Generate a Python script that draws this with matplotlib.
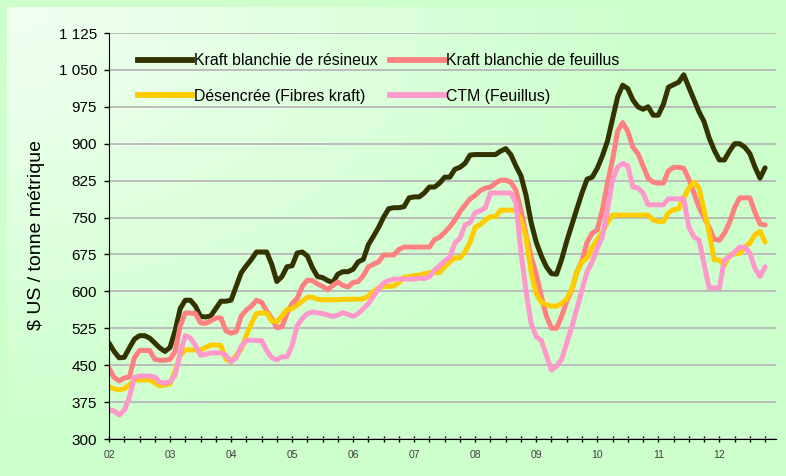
import numpy as np
import matplotlib.pyplot as plt
from matplotlib.lines import Line2D

plt.rcParams['font.family'] = ['Liberation Sans', 'DejaVu Sans']

# ------------------------------------------------------------------
# Données : prix mensuels ($ US / tonne métrique), janv. 2002 -> oct. 2012
# ------------------------------------------------------------------
year_labels = ['02', '03', '04', '05', '06', '07', '08', '09', '10', '11', '12']

kraft_resineux = [
    495, 478, 465, 466, 485, 503, 510, 510, 505, 495,
    485, 478, 486, 520, 565, 582, 582, 570, 549, 548,
    550, 565, 580, 580, 582, 610, 638, 652, 665, 680,
    680, 680, 655, 620, 630, 650, 652, 678, 680, 672,
    648, 630, 628, 622, 618, 635, 640, 640, 645, 660,
    665, 695, 712, 730, 751, 768, 770, 770, 772, 790,
    792, 792, 800, 812, 812, 820, 832, 832, 848, 852,
    860, 877, 878, 878, 878, 878, 878, 885, 890, 878,
    855, 835, 795, 740, 700, 672, 650, 636, 635, 665,
    702, 735, 768, 800, 828, 832, 850, 875, 905, 950,
    995, 1019, 1012, 989, 975, 970, 975, 958, 958, 980,
    1015, 1020, 1025, 1040, 1015, 990, 965, 945, 912, 887,
    867, 867, 885, 900, 900, 893, 880, 853, 830, 851,
]

kraft_feuillus = [
    444, 425, 418, 424, 426, 465, 480, 480, 480, 462,
    460, 460, 462, 478, 530, 556, 556, 555, 536, 535,
    540, 546, 546, 520, 515, 518, 550, 562, 570, 582,
    578, 560, 545, 526, 528, 555, 575, 586, 610, 623,
    622, 615, 610, 603, 612, 619, 612, 609, 618, 620,
    632, 650, 655, 660, 674, 674, 674, 685, 690, 690,
    690, 690, 690, 690, 705, 710, 720, 731, 745, 762,
    775, 788, 795, 805, 810, 812, 820, 826, 826, 822,
    806, 765, 715, 670, 635, 590, 550, 525, 525, 550,
    580, 603, 640, 662, 700, 718, 725, 765, 820, 867,
    925, 943, 925, 893, 880, 855, 830, 822, 820, 820,
    845, 852, 852, 850, 828, 800, 771, 750, 730, 706,
    704, 718, 740, 770, 790, 790, 790, 761, 737, 735,
]

desencree = [
    406, 402, 400, 402, 410, 420, 420, 420, 420, 414,
    408, 410, 412, 438, 470, 481, 481, 481, 481, 486,
    491, 491, 490, 462, 457, 470, 482, 510, 535, 555,
    556, 556, 540, 538, 550, 563, 565, 572, 580, 588,
    588, 584, 583, 583, 583, 583, 584, 584, 584, 584,
    585, 590, 600, 607, 610, 610, 611, 618, 629, 630,
    632, 633, 636, 638, 638, 638, 650, 660, 668, 668,
    680, 700, 730, 736, 745, 752, 752, 765, 765, 765,
    765, 745, 710, 640, 595, 578, 573, 570, 570, 575,
    585, 605, 640, 660, 668, 690, 705, 720, 740, 755,
    755, 755, 755, 755, 755, 755, 755, 745, 742, 742,
    760, 766, 768, 790, 810, 822, 810, 765, 720, 664,
    664, 653, 674, 676, 677, 690, 698, 715, 722, 700,
]

ctm_feuillus = [
    359, 357, 349, 358, 385, 425, 428, 428, 428, 426,
    415, 414, 416, 430, 475, 510, 505, 490, 470, 472,
    475, 475, 475, 470, 457, 465, 488, 500, 501, 500,
    500, 480, 465, 461, 467, 467, 490, 530, 545, 555,
    558, 556, 555, 552, 549, 552, 557, 553, 549, 555,
    565, 575, 590, 605, 617, 622, 625, 625, 625, 625,
    625, 627, 626, 630, 643, 652, 662, 670, 698, 708,
    735, 740, 760, 764, 770, 800, 800, 800, 800, 800,
    780, 680, 600, 535, 508, 500, 470, 440, 448, 462,
    495, 528, 565, 603, 640, 660, 688, 710, 765, 826,
    852, 860, 855, 812, 810, 800, 776, 776, 776, 776,
    788, 788, 788, 788, 731, 711, 704, 655, 607, 607,
    607, 664, 670, 680, 690, 690, 678, 647, 630, 650,
]

series = [
    ('Kraft blanchie de résineux', kraft_resineux, '#333300'),
    ('Kraft blanchie de feuillus', kraft_feuillus, '#FF8080'),
    ('Désencrée (Fibres kraft)', desencree, '#FFCC00'),
    ('CTM (Feuillus)', ctm_feuillus, '#FF99CC'),
]

W, H = 786, 476
fig = plt.figure(figsize=(W / 100, H / 100), dpi=100)
fig.patch.set_facecolor('#CCFFCC')

# fond dégradé (blanc en haut à gauche -> vert pâle)
bg = fig.add_axes([0, 0, 1, 1], zorder=-1)
yy, xx = np.mgrid[0:H, 0:W]
d = np.sqrt(((xx - 7) / 650.0) ** 2 + ((yy - 7) / 430.0) ** 2)
t = np.clip(d, 0, 1)[..., None]
c0 = np.array([0.95, 1.0, 0.95])
c1 = np.array([0.80, 1.0, 0.80])
img = c0 * (1 - t) + c1 * t
img[:7, :, :] = c1
img[:, :7, :] = c1
bg.imshow(img, extent=[0, W, H, 0], aspect='auto')
bg.axis('off')

ax = fig.add_axes([109 / W, 1 - 439 / H, (776 - 109) / W, (439 - 33) / H])
ax.set_facecolor('none')

months = np.arange(len(kraft_resineux))
lines = {}
for name, vals, col in series:
    ln, = ax.plot(months, vals, color=col, lw=3.6, solid_joinstyle='round',
                  solid_capstyle='round', label=name)
    lines[name] = ln

ax.set_xlim(0, (776 - 109) / 5.086)
ax.set_ylim(300, 1125)

yticks = np.arange(300, 1126, 75)
ax.set_yticks(yticks)
ax.set_yticklabels([f'{v:,}'.replace(',', ' ') for v in yticks], fontsize=11)
ax.tick_params(axis='y', direction='out', length=3.6, width=1, pad=5, colors='black')

xt = np.arange(0, 130, 3)
ax.set_xticks(xt)
ax.set_xticklabels([year_labels[i // 12] if i % 12 == 0 else '' for i in xt],
                   fontsize=7.5, color='#404040')
ax.tick_params(axis='x', direction='inout', length=4.5, width=1, pad=6)

ax.yaxis.grid(True, color='#B8B8B8', lw=1.3)
ax.set_axisbelow(True)
for s in ['top', 'right']:
    ax.spines[s].set_visible(False)
ax.spines['left'].set_color('black')
ax.spines['bottom'].set_color('black')

fig.text(37 / W, 1 - 235 / H, '$ US / tonne métrique', rotation=90,
         ha='center', va='center', fontsize=14)

order = ['Kraft blanchie de résineux', 'Désencrée (Fibres kraft)',
         'Kraft blanchie de feuillus', 'CTM (Feuillus)']
handles = [Line2D([], [], color=lines[n].get_color(), lw=4.2) for n in order]
ax.legend(handles, order, ncol=2, loc='upper left', bbox_to_anchor=(0.0435, 0.950),
          frameon=False, fontsize=11.4, handlelength=3.4, handletextpad=0.15,
          columnspacing=0.75, labelspacing=1.28, borderpad=0, borderaxespad=0)

fig.savefig('out.png', dpi=100, facecolor=fig.get_facecolor())
